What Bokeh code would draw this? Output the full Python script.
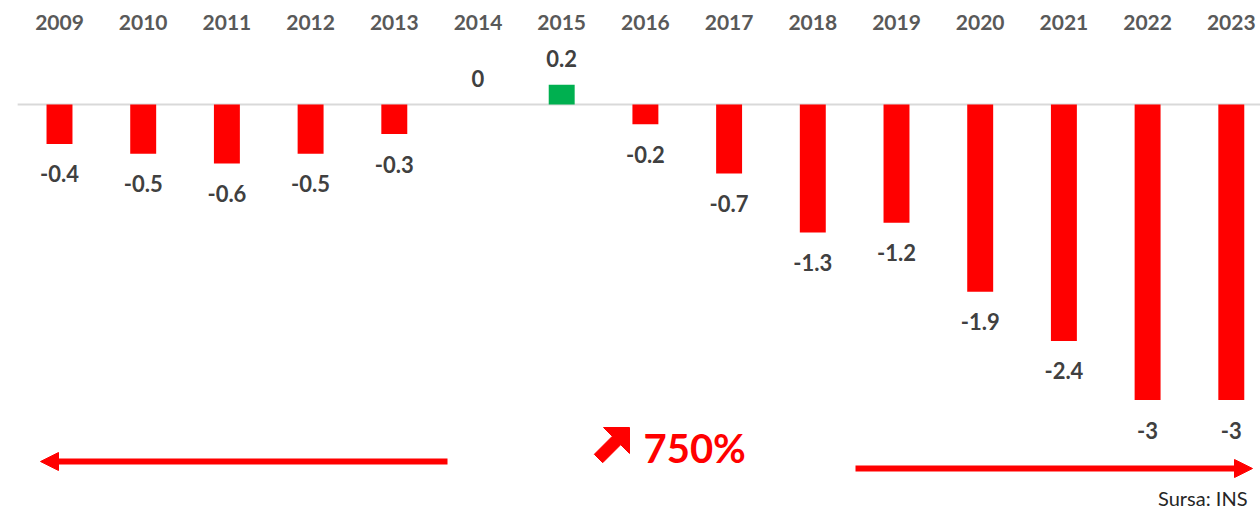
from bokeh.plotting import figure
from bokeh.models import (Range1d, FixedTicker, ColumnDataSource, Arrow, NormalHead, Label)
from bokeh.core.properties import value
from bokeh.embed import file_html
from bokeh.resources import INLINE

years = ["2009", "2010", "2011", "2012", "2013", "2014", "2015", "2016",
         "2017", "2018", "2019", "2020", "2021", "2022", "2023"]
values = [-0.4, -0.5, -0.6, -0.5, -0.3, 0, 0.2, -0.2, -0.7, -1.3, -1.2, -1.9, -2.4, -3, -3]
growth_label = "750%"
source_note = "Sursa: INS"

xs = list(range(len(years)))
colors = ["#00B050" if v > 0 else "#FF0000" for v in values]
labels = [f"{v:g}" for v in values]
offsets = [30 if v < 0 else -26 for v in values]

src = ColumnDataSource(dict(x=xs, top=values, color=colors, label=labels, off=offsets))

PX = 83.7      # px per category
PY = 98.5      # px per unit
W, H = 1260, 511
TOP = 40
Y0 = 104       # pixel row of zero

p = figure(width=W, height=H, output_backend="svg", toolbar_location=None,
           x_range=Range1d(-59 / PX, -59 / PX + W / PX),
           y_range=Range1d(-(H - Y0) / PY, (Y0 - TOP) / PY),
           x_axis_location="above", y_axis_location=None,
           min_border=0, min_border_left=0, min_border_right=0,
           min_border_top=TOP, min_border_bottom=0)
p.outline_line_color = None
p.grid.visible = False
p.background_fill_color = "white"
p.border_fill_color = "white"

ax = p.xaxis[0]
ax.ticker = FixedTicker(ticks=xs)
ax.major_label_overrides = {i: y for i, y in zip(xs, years)}
ax.axis_line_color = None
ax.major_tick_line_color = None
ax.minor_tick_line_color = None
ax.major_tick_out = 0
ax.major_tick_in = 0
ax.major_label_text_font = "Lato"
ax.major_label_text_font_style = "bold"
ax.major_label_text_font_size = "21px"
ax.major_label_text_color = "#595959"
ax.major_label_standoff = 11

def dx(px):
    return (px - 59) / PX

def dy(py):
    return (Y0 - py) / PY

# zero line
p.segment(x0=[xs[0] - 0.5], x1=[xs[-1] + 0.5], y0=[0], y1=[0],
          line_color="#D9D9D9", line_width=2)

p.vbar(x="x", top="top", bottom=0, width=0.31, fill_color="color",
       line_color=None, source=src)

p.text(x="x", y="top", text="label", y_offset="off", source=src,
       text_font=value("Lato"), text_font_style="bold", text_font_size="22px",
       text_color="#404040", text_align="center", text_baseline="middle")

# decorative arrows
p.add_layout(Arrow(x_start=dx(447), y_start=dy(461), x_end=dx(40), y_end=dy(461),
                   line_color="#FF0000", line_width=6,
                   end=NormalHead(size=18, fill_color="#FF0000", line_color="#FF0000")))
p.add_layout(Arrow(x_start=dx(855), y_start=dy(468), x_end=dx(1252), y_end=dy(468),
                   line_color="#FF0000", line_width=6,
                   end=NormalHead(size=18, fill_color="#FF0000", line_color="#FF0000")))

# north-east "increase" icon
icon_px = [(629, 427), (603, 427), (611.8, 435.8), (593.8, 453.8),
           (602.2, 462.2), (620.2, 444.2), (629, 453)]
p.patch([dx(a) for a, b in icon_px], [dy(b) for a, b in icon_px],
        fill_color="#FF0000", line_color="#FF0000", line_width=1)

p.add_layout(Label(x=dx(643), y=dy(447), text=growth_label,
                   text_font="Lato", text_font_style="bold", text_font_size="40px",
                   text_color="#FF0000", text_align="left", text_baseline="middle"))
p.add_layout(Label(x=dx(1247), y=dy(497), text=source_note,
                   text_font="Lato", text_font_size="20px",
                   text_color="#262626", text_align="right", text_baseline="middle"))

open("out.html", "w").write(file_html(p, INLINE))
